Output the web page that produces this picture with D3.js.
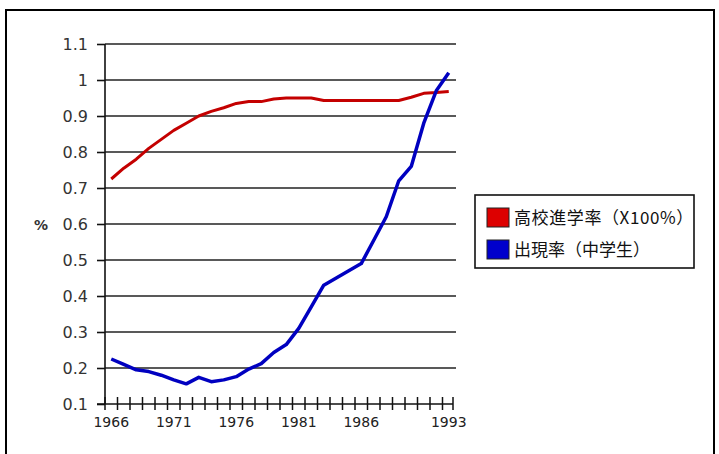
<!DOCTYPE html>
<html>
<head>
<meta charset="utf-8">
<script src="https://cdn.jsdelivr.net/npm/d3@7"></script>
<style>
  body { margin: 0; background: #fff; }
  svg { display: block; }
</style>
</head>
<body>
<svg id="chart" width="719" height="454"></svg>
<script>
// years on the category axis
let years = d3.range(1966, 1994);

// 高校進学率 (x100%)
let highSchoolRate = [0.725, 0.755, 0.78, 0.81, 0.835, 0.86, 0.88, 0.90, 0.913, 0.923,
    0.935, 0.94, 0.94, 0.947, 0.95, 0.95, 0.95, 0.943, 0.943, 0.943,
    0.943, 0.943, 0.943, 0.943, 0.952, 0.963, 0.965, 0.968];

// 出現率 (中学生)
let appearanceRate = [0.225, 0.21, 0.195, 0.19, 0.18, 0.167, 0.156, 0.174, 0.162, 0.167,
    0.176, 0.197, 0.212, 0.243, 0.265, 0.31, 0.37, 0.43, 0.45, 0.47,
    0.49, 0.555, 0.62, 0.72, 0.76, 0.88, 0.97, 1.02];

let yTicks = [0.1, 0.2, 0.3, 0.4, 0.5, 0.6, 0.7, 0.8, 0.9, 1, 1.1];
let xTickLabels = [1966, 1971, 1976, 1981, 1986, 1993];

let seriesNames = ["高校進学率（X100%）", "出現率（中学生）"];
let seriesColors = ["#c40000", "#0000c0"];
let swatchColors = ["#dd0000", "#0000cc"];

let svg = d3.select("#chart");

// outer frame
svg.append("rect")
    .attr("x", 6).attr("y", 10)
    .attr("width", 708).attr("height", 460)
    .attr("fill", "none")
    .attr("stroke", "#000")
    .attr("stroke-width", 2);

let xScale = d3.scaleBand()
    .domain(years)
    .range([105, 455]);

let yScale = d3.scaleLinear()
    .domain([0.1, 1.1])
    .range([404, 44]);

// gridlines
svg.append("g")
    .selectAll("line")
    .data(yTicks.slice(1))
    .join("line")
    .attr("x1", 105).attr("x2", 456)
    .attr("y1", d => yScale(d)).attr("y2", d => yScale(d))
    .attr("stroke", "#222")
    .attr("stroke-width", 1.6);

// y axis
let yAxis = svg.append("g")
    .attr("transform", "translate(105,0)")
    .call(d3.axisLeft(yScale).tickValues(yTicks).tickSize(8).tickPadding(9).tickFormat(d3.format("")));
yAxis.select(".domain").attr("stroke", "#111").attr("stroke-width", 1.6).attr("d", "M0,44V404");
yAxis.selectAll(".tick line").attr("stroke", "#111").attr("stroke-width", 1.6);
yAxis.selectAll("text")
    .attr("font-family", "DejaVu Sans")
    .attr("font-size", 16)
    .attr("fill", "#333");

// % label
svg.append("text")
    .attr("x", 48).attr("y", 230)
    .attr("text-anchor", "end")
    .attr("font-family", "DejaVu Sans")
    .attr("font-size", 14)
    .attr("font-weight", "bold")
    .attr("fill", "#333")
    .text("%");

// x axis line
svg.append("line")
    .attr("x1", 97).attr("x2", 453)
    .attr("y1", yScale(0.1)).attr("y2", yScale(0.1))
    .attr("stroke", "#111")
    .attr("stroke-width", 1.6);

// x tick crosses at category boundaries
let boundaries = years.map(d => xScale(d)).concat([xScale.range()[1] - 2]);
svg.append("g")
    .selectAll("line")
    .data(boundaries)
    .join("line")
    .attr("x1", d => d).attr("x2", d => d)
    .attr("y1", yScale(0.1) - 7).attr("y2", yScale(0.1) + 6)
    .attr("stroke", "#111")
    .attr("stroke-width", 1.5);

// x labels
svg.append("g")
    .selectAll("text")
    .data(xTickLabels)
    .join("text")
    .attr("x", d => xScale(d) + xScale.bandwidth() / 2)
    .attr("y", 427)
    .attr("text-anchor", "middle")
    .attr("font-family", "DejaVu Sans")
    .attr("font-size", 14)
    .attr("fill", "#222")
    .text(d => d);

// lines
let line = d3.line()
    .x((d, i) => xScale(years[i]) + xScale.bandwidth() / 2)
    .y(d => yScale(d));

[highSchoolRate, appearanceRate].forEach(function(series, i) {
    svg.append("path")
        .datum(series)
        .attr("d", line)
        .attr("fill", "none")
        .attr("stroke", seriesColors[i])
        .attr("stroke-width", i == 0 ? 3 : 3.5)
        .attr("stroke-linejoin", "round");
});

// legend
let legend = svg.append("g");
legend.append("rect")
    .attr("x", 475).attr("y", 195)
    .attr("width", 219).attr("height", 73)
    .attr("fill", "#fff")
    .attr("stroke", "#111")
    .attr("stroke-width", 1.6);

seriesNames.forEach(function(name, i) {
    let y = 208 + i * 32;
    legend.append("rect")
        .attr("x", 487).attr("y", y)
        .attr("width", 22).attr("height", 19)
        .attr("fill", swatchColors[i])
        .attr("stroke", "#222")
        .attr("stroke-width", 1);
    legend.append("text")
        .attr("x", 514).attr("y", y + 16)
        .attr("font-family", "Noto Sans CJK JP")
        .attr("font-size", 17)
        .attr("letter-spacing", i == 0 ? 0.6 : 0)
        .attr("fill", "#111")
        .text(name);
});
</script>
</body>
</html>
